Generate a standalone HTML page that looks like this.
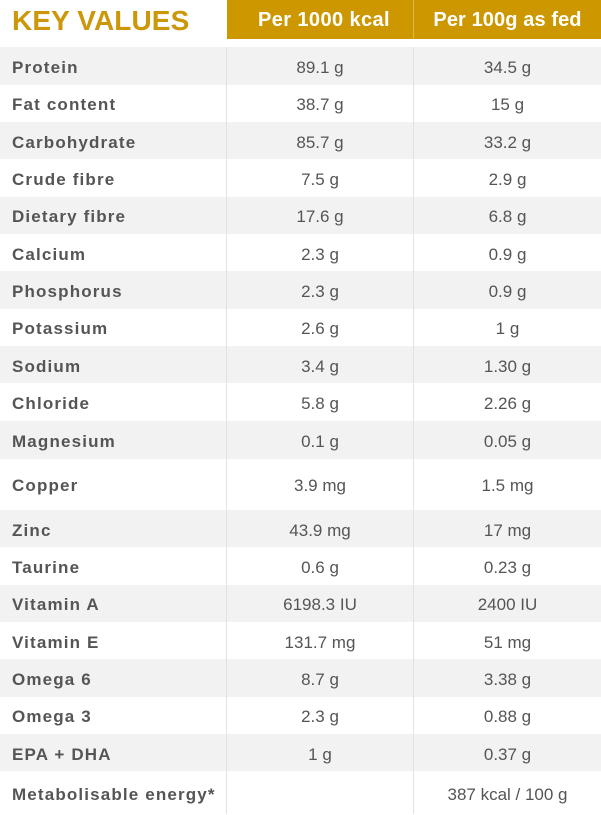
<!DOCTYPE html>
<html>
<head>
<meta charset="utf-8">
<style>
  html,body{margin:0;padding:0;background:#fff;}
  body{width:601px;height:814px;position:relative;overflow:hidden;font-family:"Liberation Sans",Arial,sans-serif;}
  .title{position:absolute;left:12px;top:7px;height:28px;line-height:28px;font-size:28px;font-weight:bold;color:#cc9708;letter-spacing:0.1px;white-space:nowrap;}
  .hdr{position:absolute;top:0;height:38.5px;line-height:40px;background:#cd9700;color:#fff;font-weight:bold;font-size:20px;text-align:center;white-space:nowrap;}
  .h1{left:227px;width:186px;letter-spacing:0.4px;padding-left:8px;box-sizing:border-box;}
  .h2{left:414px;width:187px;letter-spacing:0.1px;}
  .hsep{position:absolute;left:413px;top:0;width:1px;height:38.5px;background:#e0b64c;}
  .row{position:absolute;left:0;width:601px;}
  .g{background:#f2f2f2;}
  .row span{position:absolute;top:3px;bottom:-1px;display:flex;align-items:center;white-space:nowrap;}
  .lab{left:12px;font-size:17px;font-weight:bold;color:#555;letter-spacing:1.15px;}
  .v1{left:227px;width:186px;justify-content:center;font-size:17px;color:#555;}
  .v2{left:414px;width:187px;justify-content:center;font-size:17px;color:#555;}
  .vline{position:absolute;top:47px;width:1px;height:767px;background:#e2e2e2;}
</style>
</head>
<body>
<div class="title">KEY VALUES</div>
<div class="hdr h1">Per 1000 kcal</div>
<div class="hdr h2">Per 100g as fed</div>
<div class="hsep"></div>

<div class="row g" style="top:47.33px;height:37.34px"><span class="lab">Protein</span><span class="v1">89.1 g</span><span class="v2">34.5 g</span></div>
<div class="row" style="top:84.67px;height:37.33px"><span class="lab">Fat content</span><span class="v1">38.7 g</span><span class="v2">15 g</span></div>
<div class="row g" style="top:122px;height:37.33px"><span class="lab">Carbohydrate</span><span class="v1">85.7 g</span><span class="v2">33.2 g</span></div>
<div class="row" style="top:159.33px;height:37.34px"><span class="lab">Crude fibre</span><span class="v1">7.5 g</span><span class="v2">2.9 g</span></div>
<div class="row g" style="top:196.67px;height:37.33px"><span class="lab">Dietary fibre</span><span class="v1">17.6 g</span><span class="v2">6.8 g</span></div>
<div class="row" style="top:234px;height:37.33px"><span class="lab">Calcium</span><span class="v1">2.3 g</span><span class="v2">0.9 g</span></div>
<div class="row g" style="top:271.33px;height:37.34px"><span class="lab">Phosphorus</span><span class="v1">2.3 g</span><span class="v2">0.9 g</span></div>
<div class="row" style="top:308.67px;height:37.33px"><span class="lab">Potassium</span><span class="v1">2.6 g</span><span class="v2">1 g</span></div>
<div class="row g" style="top:346px;height:37.33px"><span class="lab">Sodium</span><span class="v1">3.4 g</span><span class="v2">1.30 g</span></div>
<div class="row" style="top:383.33px;height:37.34px"><span class="lab">Chloride</span><span class="v1">5.8 g</span><span class="v2">2.26 g</span></div>
<div class="row g" style="top:420.67px;height:38px"><span class="lab">Magnesium</span><span class="v1">0.1 g</span><span class="v2">0.05 g</span></div>
<div class="row" style="top:458.67px;height:51.33px"><span class="lab">Copper</span><span class="v1">3.9 mg</span><span class="v2">1.5 mg</span></div>
<div class="row g" style="top:510px;height:37.33px"><span class="lab">Zinc</span><span class="v1">43.9 mg</span><span class="v2">17 mg</span></div>
<div class="row" style="top:547.33px;height:37.34px"><span class="lab">Taurine</span><span class="v1">0.6 g</span><span class="v2">0.23 g</span></div>
<div class="row g" style="top:584.67px;height:37.33px"><span class="lab">Vitamin A</span><span class="v1">6198.3 IU</span><span class="v2">2400 IU</span></div>
<div class="row" style="top:622px;height:37.33px"><span class="lab">Vitamin E</span><span class="v1">131.7 mg</span><span class="v2">51 mg</span></div>
<div class="row g" style="top:659.33px;height:37.34px"><span class="lab">Omega 6</span><span class="v1">8.7 g</span><span class="v2">3.38 g</span></div>
<div class="row" style="top:696.67px;height:37.33px"><span class="lab">Omega 3</span><span class="v1">2.3 g</span><span class="v2">0.88 g</span></div>
<div class="row g" style="top:734px;height:37.33px"><span class="lab">EPA + DHA</span><span class="v1">1 g</span><span class="v2">0.37 g</span></div>
<div class="row" style="top:771.33px;height:42.67px"><span class="lab">Metabolisable energy*</span><span class="v1"></span><span class="v2">387 kcal / 100 g</span></div>

<div class="vline" style="left:226px"></div>
<div class="vline" style="left:413px"></div>
</body>
</html>
